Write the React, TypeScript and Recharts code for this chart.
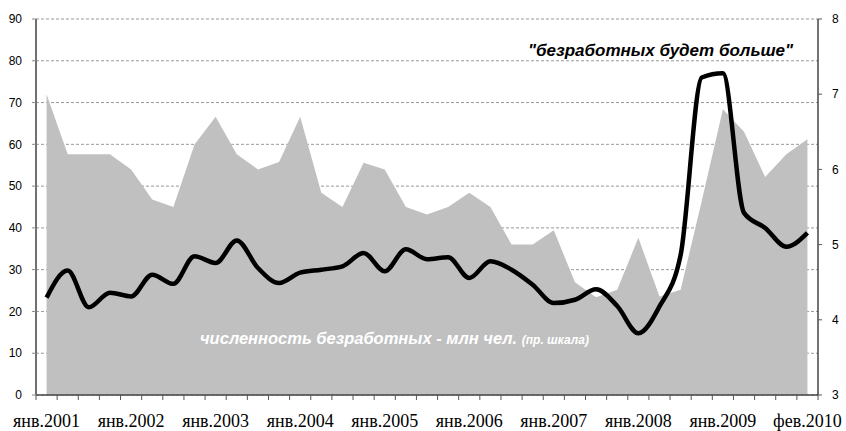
import { ComposedChart, Area, Line, XAxis, YAxis, CartesianGrid } from "recharts";

// quarterly points, I кв. 2001 ... I кв. 2010
const unemployedMln = [
  7.0, 6.2, 6.2, 6.2, 6.0, 5.6, 5.5, 6.33, 6.7, 6.2, 6.0, 6.1, 6.7, 5.69, 5.5, 6.09, 6.0, 5.5, 5.4,
  5.5, 5.69, 5.5, 5.0, 5.0, 5.19, 4.5, 4.3, 4.4, 5.09, 4.31, 4.4, 5.58, 6.8, 6.5, 5.9, 6.2, 6.4,
];
const expectIndex = [
  23.3, 29.8, 21, 24.5, 23.6, 28.8, 26.6, 33.2, 31.6, 37, 30.4, 26.8, 29.3, 30, 30.8, 34, 29.6, 34.9,
  32.5, 33, 28, 32, 30, 26.4, 22, 22.8, 25.3, 21.3, 14.8, 21.2, 33.5, 76, 77, 43.6, 40, 35.5, 38.8,
];
const tickLabels = [
  "янв.2001", "янв.2002", "янв.2003", "янв.2004", "янв.2005",
  "янв.2006", "янв.2007", "янв.2008", "янв.2009", "фев.2010",
];
const labelStep = 4;
const leftTicks = [0, 10, 20, 30, 40, 50, 60, 70, 80, 90];
const rightTicks = [3, 4, 5, 6, 7, 8];

const data = unemployedMln.map((u, i) => ({ i, u, idx: expectIndex[i] }));

// tick marks between categories, labels at category centres
const xTicks = [
  ...data.map((d) => d.i - 0.5),
  data.length - 0.5,
  ...tickLabels.map((_, k) => k * labelStep),
];

const sans = '"Liberation Sans", Arial, sans-serif';
const serif = '"Liberation Serif", "Times New Roman", serif';

const XTick = (props: any) => {
  const { x, y, payload } = props;
  const v = payload.value;
  if (!Number.isInteger(v)) {
    return <line x1={x} x2={x} y1={y} y2={y + 5} stroke="#555" strokeWidth={1} />;
  }
  return (
    <text x={x} y={y + 32} textAnchor="middle" fontFamily={serif} fontSize={18} fill="#000">
      {tickLabels[v / labelStep]}
    </text>
  );
};

export default function App() {
  return (
    <div style={{ position: "absolute", left: 0, top: 0, width: 846, height: 431, background: "#fff" }}>
      <ComposedChart width={846} height={431} data={data} margin={{ top: 19, right: 0, left: 0, bottom: 0 }}>
        <CartesianGrid yAxisId="left" vertical={false} stroke="#999" strokeDasharray="3 2" />
        <XAxis
          dataKey="i"
          type="number"
          domain={[-0.5, data.length - 0.5]}
          ticks={xTicks}
          interval={0}
          tick={<XTick />}
          tickLine={false}
          tickSize={0}
          tickMargin={0}
          height={36}
          axisLine={{ stroke: "#444", strokeWidth: 1.5 }}
        />
        <YAxis
          yAxisId="left"
          domain={[0, 90]}
          ticks={leftTicks}
          interval={0}
          width={36}
          tickSize={4}
          tickMargin={10}
          tick={{ fontSize: 12, fill: "#000", fontFamily: sans }}
          tickLine={{ stroke: "#888" }}
          axisLine={{ stroke: "#707070", strokeWidth: 2 }}
        />
        <YAxis
          yAxisId="right"
          orientation="right"
          domain={[3, 8]}
          ticks={rightTicks}
          interval={0}
          width={28}
          tickSize={4}
          tickMargin={10}
          tick={{ fontSize: 12, fill: "#000", fontFamily: sans, textAnchor: "start" }}
          tickLine={{ stroke: "#555" }}
          axisLine={{ stroke: "#444", strokeWidth: 1.5 }}
        />
        <Area
          yAxisId="right"
          dataKey="u"
          type="linear"
          stroke="none"
          fill="#c0c0c0"
          fillOpacity={1}
          baseValue="dataMin"
          isAnimationActive={false}
        />
        <Line
          yAxisId="left"
          dataKey="idx"
          type="monotone"
          stroke="#000"
          strokeWidth={4.5}
          dot={false}
          isAnimationActive={false}
        />
      </ComposedChart>
      <svg width={846} height={431} style={{ position: "absolute", left: 0, top: 0, pointerEvents: "none" }}>
        <text x={528} y={56} fontFamily={sans} fontSize={17} fontWeight="bold" fontStyle="italic" fill="#000">
          "безработных будет больше"
        </text>
        <text x={200} y={344} fontFamily={sans} fontWeight="bold" fontStyle="italic" fill="#fff">
          <tspan fontSize={16.5}>численность безработных - млн чел. </tspan>
          <tspan fontSize={12}>(пр. шкала)</tspan>
        </text>
      </svg>
    </div>
  );
}
